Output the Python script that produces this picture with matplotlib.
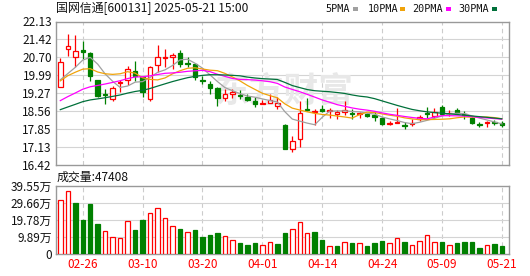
import matplotlib
matplotlib.use("Agg")
import matplotlib.pyplot as plt
from matplotlib.patches import Rectangle
import numpy as np
import pandas as pd

plt.rcParams['font.family'] = ['Noto Sans CJK SC', 'DejaVu Sans']

dates = ["02-21", "02-24", "02-25", "02-26", "02-27", "02-28", "03-03", "03-04", "03-05", "03-06",
         "03-07", "03-10", "03-11", "03-12", "03-13", "03-14", "03-17", "03-18", "03-19", "03-20",
         "03-21", "03-24", "03-25", "03-26", "03-27", "03-28", "03-31", "04-01", "04-02", "04-03",
         "04-07", "04-08", "04-09", "04-10", "04-11", "04-14", "04-15", "04-16", "04-17", "04-18",
         "04-21", "04-22", "04-23", "04-24", "04-25", "04-28", "04-29", "04-30", "05-06", "05-07",
         "05-08", "05-09", "05-12", "05-13", "05-14", "05-15", "05-16", "05-19", "05-20", "05-21"]
label_dates = ["02-26", "03-10", "03-20", "04-01", "04-14", "04-24", "05-09", "05-21"]

opens = [19.51, 21.02, 20.73, 20.98, 20.87, 19.80, 19.22, 19.04, 19.67, 19.78,
         20.15, 19.90, 19.04, 20.38, 20.69, 20.70, 20.89, 20.49, 20.45, 19.80,
         19.63, 19.47, 19.08, 19.25, 19.20, 19.10, 18.94, 18.84, 18.88, 18.76,
         18.00, 17.05, 17.42, 18.62, 18.52, 18.64, 18.56, 18.43, 18.53, 18.49,
         18.43, 18.42, 18.38, 18.27, 18.03, 18.08, 18.00, 18.03, 18.22, 18.48,
         18.35, 18.72, 18.46, 18.61, 18.43, 18.27, 18.03, 18.07, 18.11, 18.08]
highs = [20.66, 21.65, 21.59, 21.36, 20.91, 19.80, 19.45, 19.57, 19.78, 20.36,
         20.56, 19.94, 20.36, 21.19, 21.03, 20.89, 20.99, 20.70, 20.49, 19.96,
         19.74, 19.50, 19.45, 19.43, 19.38, 19.24, 19.12, 19.01, 19.24, 19.12,
         18.02, 17.56, 18.97, 19.09, 18.64, 18.80, 18.69, 18.59, 18.97, 18.64,
         18.52, 18.48, 18.51, 18.30, 18.14, 18.69, 18.11, 18.22, 18.40, 18.72,
         18.66, 18.79, 18.61, 18.68, 18.55, 18.30, 18.11, 18.15, 18.19, 18.14]
lows = [19.51, 20.76, 20.33, 20.62, 19.74, 19.10, 18.84, 18.94, 19.30, 19.61,
        19.76, 19.10, 18.94, 20.12, 20.33, 20.23, 20.31, 20.33, 19.80, 19.64,
        19.25, 18.76, 18.94, 19.06, 19.05, 18.97, 18.72, 18.83, 18.88, 18.64,
        17.03, 16.92, 17.12, 18.56, 18.00, 18.52, 18.27, 18.22, 18.41, 18.22,
        18.27, 18.32, 18.15, 18.00, 18.00, 18.06, 17.85, 17.95, 18.15, 18.27,
        18.26, 18.38, 18.35, 18.44, 18.22, 18.03, 17.90, 17.90, 17.98, 17.90]
closes = [20.53, 21.15, 20.94, 20.93, 19.94, 19.17, 19.19, 19.47, 19.71, 20.23,
          19.94, 19.30, 20.31, 20.72, 20.73, 20.81, 20.42, 20.45, 19.91, 19.75,
          19.47, 19.08, 19.24, 19.30, 19.17, 18.98, 18.85, 18.89, 18.98, 18.88,
          17.05, 17.37, 18.48, 18.58, 18.56, 18.54, 18.60, 18.51, 18.61, 18.43,
          18.46, 18.34, 18.32, 18.03, 18.06, 18.12, 17.95, 18.08, 18.32, 18.44,
          18.53, 18.42, 18.48, 18.46, 18.38, 18.06, 17.99, 18.10, 18.07, 17.99]
# closes before the visible window (only feed the moving averages)
hist_closes = [17.95, 17.80, 17.70, 17.85, 17.90, 17.78, 17.92, 18.00, 17.98, 18.02,
               17.95, 18.05, 17.90, 17.98, 18.10, 18.05, 18.20, 18.35, 18.52, 18.70,
               19.10, 19.55, 19.70, 19.75, 20.50, 19.90, 19.70, 19.47, 19.40]
# volume in 万手
volume = [31.3, 36.5, 29.6, 19.8, 29.2, 17.7, 13.4, 10.0, 9.4, 19.2,
          14.0, 19.8, 23.8, 26.7, 20.9, 16.3, 14.6, 12.9, 14.0, 10.0,
          11.1, 12.5, 10.6, 8.1, 6.5, 5.4, 6.5, 5.2, 7.2, 6.1,
          12.5, 14.6, 18.6, 12.3, 13.1, 8.4, 4.8, 4.8, 7.1, 6.7,
          6.5, 4.8, 6.7, 7.9, 6.5, 9.4, 7.3, 5.4, 7.9, 11.1,
          7.3, 7.3, 5.4, 6.7, 7.3, 7.3, 3.8, 5.4, 6.1, 4.74]

price_ticks = [16.42, 17.13, 17.85, 18.56, 19.27, 19.99, 20.70, 21.42, 22.13]
vol_ticks = [0, 9.89, 19.78, 29.66, 39.55]
vol_labels = ["0", "9.89万", "19.78万", "29.66万", "39.55万"]

ma_periods = [5, 10, 20, 30]
ma_colors = ["#a0a0a0", "#f0a30a", "#ff00ff", "#00703a"]
RED = "#ff0000"
GREEN = "#008000"
GRID = "#d4d4d4"
FRAME = "#999999"

n = len(closes)
x = np.arange(n)
all_close = pd.Series(hist_closes + closes)

fig = plt.figure(figsize=(5.3, 2.76), dpi=100)
ax = fig.add_axes([56 / 530, 1 - 164.5 / 276, 453.3 / 530, 143 / 276])
axv = fig.add_axes([56 / 530, 1 - 254.3 / 276, 453.3 / 530, 68.3 / 276])

label_idx = [dates.index(d) for d in label_dates]

for a in (ax, axv):
    a.set_xlim(-0.575, 60.0)
    for s in a.spines.values():
        s.set_color(FRAME)
        s.set_linewidth(1.0)
    for i in label_idx:
        a.axvline(i, color="#cccccc", lw=0.8, ls=(0, (4, 3)), zorder=0)
    a.tick_params(length=0, labelsize=8.5, pad=3)

# price panel
ax.set_ylim(price_ticks[0], price_ticks[-1])
ax.set_yticks(price_ticks)
ax.set_yticklabels(["%.2f" % v for v in price_ticks], color="#111111")
ax.set_xticks([])
for v in price_ticks[1:-1]:
    ax.axhline(v, color=GRID, lw=0.8, zorder=0)

# faint watermark
ax.text(30, 19.35, "东方财富", fontsize=25, color="#e8e8e8", ha="center", va="center",
        fontweight="bold", zorder=0)

w = 0.6
for i in range(n):
    o, h, l, c = opens[i], highs[i], lows[i], closes[i]
    col = RED if c >= o else GREEN
    ax.vlines(i, l, h, color=col, lw=0.9, zorder=2)
    bot = min(o, c)
    ht = max(abs(c - o), 0.012)
    face = "white" if c >= o else GREEN
    ax.add_patch(Rectangle((i - w / 2, bot), w, ht, facecolor=face, edgecolor=col,
                           lw=0.9, zorder=3))

for p, col in zip(ma_periods, ma_colors):
    ma = all_close.rolling(p).mean().values[len(hist_closes):]
    ax.plot(x, ma, color=col, lw=0.9, zorder=4)

# volume panel
prev = [hist_closes[-1]] + closes[:-1]
axv.set_ylim(0, 39.55)
axv.set_yticks(vol_ticks)
axv.set_yticklabels(vol_labels, color="#111111")
for v in vol_ticks[1:-1]:
    axv.axhline(v, color=GRID, lw=0.8, zorder=0)
for i in range(n):
    up = closes[i] >= prev[i]
    col = RED if up else GREEN
    face = "white" if up else GREEN
    axv.add_patch(Rectangle((i - w / 2, 0), w, volume[i], facecolor=face, edgecolor=col,
                            lw=0.9, zorder=3))
axv.set_xticks(label_idx)
axv.set_xticklabels(label_dates, color=RED)

# titles and legend
fig.text(56 / 530, 1 - 8.5 / 276, "国网信通[600131] 2025-05-21 15:00", fontsize=8.6,
         va="center", ha="left", color="#111111")
fig.text(57 / 530, 1 - 177 / 276, "成交量:47408", fontsize=8.6, va="center", ha="left",
         color="#111111")

leg_text_x = [325, 367.5, 412.5, 458]
leg_box_x = [352.7, 400, 445.7, 491.7]
for tx, bx, p, col in zip(leg_text_x, leg_box_x, ma_periods, ma_colors):
    fig.text(tx / 530, 1 - 9 / 276, "%dPMA" % p, fontsize=7.3, va="center", ha="left",
             color="#111111", family="DejaVu Sans Mono")
    fig.patches.append(Rectangle((bx / 530, 1 - 10.5 / 276), 5 / 530, 3 / 276,
                                 transform=fig.transFigure, facecolor=col, edgecolor="none"))

fig.savefig("out.png", dpi=100, facecolor="white")
